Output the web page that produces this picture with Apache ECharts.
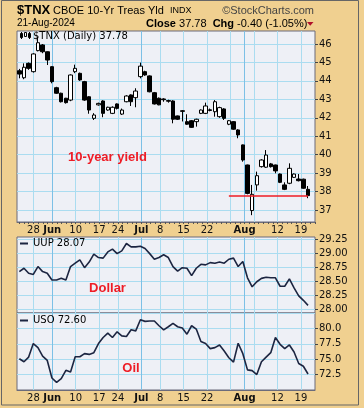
<!DOCTYPE html>
<html><head><meta charset="utf-8">
<script src="https://cdn.jsdelivr.net/npm/echarts@6/dist/echarts.min.js"></script>
<style>html,body{margin:0;padding:0;background:#F0D090}#c{width:364px;height:408px}</style>
</head><body><div id="c"></div><script>
// ---- data ----
const days = ['05-22','05-23','05-24','05-28','05-29','05-30','05-31',
 '06-03','06-04','06-05','06-06','06-07','06-10','06-11','06-12','06-13','06-14',
 '06-17','06-18','06-20','06-21','06-24','06-25','06-26','06-27','06-28',
 '07-01','07-02','07-03','07-05','07-08','07-09','07-10','07-11','07-12',
 '07-15','07-16','07-17','07-18','07-19','07-22','07-23','07-24','07-25','07-26',
 '07-29','07-30','07-31','08-01','08-02','08-05','08-06','08-07','08-08','08-09',
 '08-12','08-13','08-14','08-15','08-16','08-19','08-20','08-21'];
const tnxOpen = [44.55,44.17,44.95,44.50,45.64,45.95,45.58,44.77,43.63,43.33,
 43.06,42.96,44.50,44.41,43.96,43.14,41.97,42.70,42.91,42.42,
 42.24,42.75,42.20,42.87,43.24,43.09,44.23,44.50,44.27,43.36,
 43.06,43.02,42.93,42.91,42.10,42.38,41.79,41.84,41.79,42.24,
 42.24,42.43,42.33,42.06,42.48,41.65,41.79,41.34,40.53,39.44,
 36.97,38.36,39.35,39.32,39.50,39.44,38.95,38.36,38.45,38.77,
 38.68,38.67,38.12];
const tnxClose = [44.37,44.74,44.68,45.46,46.07,45.58,45.13,43.96,43.33,42.87,
 42.82,44.32,44.68,44.05,42.96,42.42,42.15,42.78,42.24,42.57,
 42.57,42.51,42.42,43.18,42.87,43.45,44.80,44.32,43.41,42.75,
 42.70,42.98,42.90,41.92,41.92,42.35,41.65,41.48,41.92,42.42,
 42.64,42.40,42.87,42.55,41.97,41.84,41.38,41.07,39.71,37.90,
 37.85,38.86,39.71,39.98,39.35,39.12,38.50,38.12,39.26,38.95,
 38.59,38.18,37.78];
const tnxHigh = [44.65,44.95,45.00,45.50,46.40,46.00,45.60,44.80,43.68,43.36,
 43.08,44.35,44.88,44.45,44.00,43.17,42.25,42.82,42.95,42.60,
 42.62,42.78,42.50,43.22,43.27,43.60,44.99,44.55,44.30,43.40,
 43.10,43.06,42.98,42.95,42.12,42.42,42.19,41.88,41.95,42.45,
 42.82,42.50,42.96,42.60,42.52,41.88,41.82,41.38,40.55,39.46,
 38.36,39.08,39.75,40.25,39.55,39.46,38.98,38.50,39.53,38.98,
 38.95,38.70,38.30];
const tnxLow = [44.14,44.09,44.60,44.45,45.60,45.50,44.86,43.87,43.30,42.83,
 42.77,42.90,44.42,44.00,42.92,42.22,41.88,42.66,42.03,42.38,
 42.20,42.45,42.15,42.84,42.64,42.57,44.14,44.28,43.38,42.72,
 42.68,42.87,42.82,41.70,41.88,41.80,41.62,41.45,41.52,42.20,
 42.20,42.35,42.06,42.00,41.88,41.60,41.35,40.89,39.62,37.85,
 36.72,38.05,39.30,39.28,39.30,38.99,38.46,38.08,38.40,38.74,
 38.55,38.15,37.64];
const uup = [28.67,28.73,28.64,28.62,28.76,28.67,28.64,28.52,28.52,28.55,
 28.52,28.76,28.82,28.88,28.74,28.84,28.98,28.92,28.91,29.02,
 29.07,28.99,29.04,29.17,29.11,29.11,29.12,29.08,28.99,28.89,
 28.92,28.97,28.92,28.76,28.68,28.74,28.73,28.60,28.73,28.80,
 28.79,28.83,28.82,28.84,28.82,28.89,28.91,28.76,28.85,28.56,
 28.40,28.49,28.55,28.57,28.56,28.56,28.41,28.41,28.54,28.38,
 28.24,28.16,28.07];
const uso = [75.07,74.58,75.34,77.54,76.88,75.50,74.80,71.95,71.23,71.84,
 73.20,72.93,75.40,75.40,75.90,75.78,76.06,77.54,78.52,79.23,
 78.52,79.44,78.79,78.68,79.77,79.60,81.41,81.14,81.20,81.20,
 80.43,79.77,80.27,80.82,80.27,80.05,79.06,80.43,79.89,77.86,
 77.54,76.72,76.88,77.31,76.32,75.24,74.52,77.59,75.90,73.27,
 73.15,72.50,74.58,75.34,76.06,78.52,77.42,76.72,77.31,76.16,
 74.30,73.86,72.60];
const tickDays = ['05-28','06-03','06-10','06-17','06-24','07-01','07-08','07-15','07-22','08-01','08-12','08-19'];
const tickText = ['28','Jun','10','17','24','Jul','8','15','22','Aug','12','19'];
const monthDays = ['06-03','07-01','08-01'];
const gridDays = ['05-28','06-03','06-10','06-17','06-24','07-01','07-08','07-15','07-22','07-29','08-01','08-05','08-12','08-19'];
const tnxTicks = {min:37, max:46, step:1};
const uupTicks = {min:28, max:29.25, step:0.25};
const usoTicks = {min:70, max:82.5, step:2.5};

// ---- style ----
const TAN='#F0D090', PLOT='#EEF0F6', BORDER='#6b6b7b', LIGHT='#aadcf0', DARK='#7cc0e6', NAVY='#1c2541', RED='#ee1c25';
const LEFT=17, W=298;
const halfCats = [];
for (let k=0;k<=days.length*2+1;k++) halfCats.push(k%2===1 ? days[(k-1)/2] : '_'+k);
const dayCats = days.concat(['']);
const gridColors = gridDays.map(d => monthDays.indexOf(d)>=0 ? DARK : LIGHT);
const fmtX = v => { const i = tickDays.indexOf(v); if (i<0) return ''; const t = tickText[i]; return monthDays.indexOf(v)>=0 ? '{m|'+t+'}' : t; };
const lblX = {fontSize:10, color:'#111', fontFamily:'DejaVu Sans', rich:{m:{fontWeight:'bold', fontSize:10, color:'#111', fontFamily:'DejaVu Sans'}}};
const split = {show:true, interval:(i,v)=>gridDays.indexOf(v)>=0, lineStyle:{color:gridColors, width:1}};
function yAx(g, t, dec){
  return {gridIndex:g, type:'value', position:'right', min:t.min, max:t.max, interval:t.step,
    axisLine:{show:false}, axisTick:{show:true, length:3, lineStyle:{color:'#444'}},
    axisLabel:{margin:4, fontSize:10, color:'#111', fontFamily:'DejaVu Sans', showMinLabel:g!==4, showMaxLabel:g!==4,
      formatter:v=>dec?v.toFixed(dec):String(v)},
    splitLine:{show:true, lineStyle:{color:LIGHT, width:1}}};
}
const last = a => a[a.length-1];
const closeLevel = last(tnxClose);
const prevClose = tnxClose[tnxClose.length-2];
const chg = closeLevel - prevClose;

const chart = echarts.init(document.getElementById('c'), null, {renderer:'canvas'});
chart.setOption({
  animation:false,
  backgroundColor:TAN,
  textStyle:{fontFamily:'DejaVu Sans'},
  grid:[
    {left:LEFT, top:31, width:W, height:191, show:true, backgroundColor:PLOT, borderColor:BORDER, borderWidth:1},
    {left:LEFT, top:44, width:W, height:166},
    {left:LEFT, top:237, width:W, height:76, show:true, backgroundColor:PLOT, borderColor:BORDER, borderWidth:1},
    {left:LEFT, top:239, width:W, height:70.3},
    {left:LEFT, top:313, width:W, height:77, show:true, backgroundColor:PLOT, borderColor:BORDER, borderWidth:1}
  ],
  xAxis:[
    {gridIndex:0, type:'category', data:halfCats, boundaryGap:false,
     axisLine:{show:true, lineStyle:{color:BORDER}},
     axisTick:{show:true, interval:(i)=>i%2===1, length:2, lineStyle:{color:'#555'}},
     axisLabel:Object.assign({show:true, interval:(i,v)=>tickDays.indexOf(v)>=0, formatter:fmtX, margin:3}, lblX),
     splitLine:split},
    {gridIndex:1, type:'category', data:dayCats, boundaryGap:true, show:false},
    {gridIndex:2, type:'category', data:halfCats, boundaryGap:false,
     axisLine:{show:false}, axisTick:{show:false}, axisLabel:{show:false}, splitLine:split},
    {gridIndex:3, type:'category', data:dayCats, boundaryGap:true, show:false},
    {gridIndex:4, type:'category', data:halfCats, boundaryGap:false,
     axisLine:{show:true, lineStyle:{color:BORDER}}, axisTick:{show:false},
     axisLabel:Object.assign({show:true, interval:(i,v)=>tickDays.indexOf(v)>=0, formatter:fmtX, margin:3}, lblX),
     splitLine:split},
    {gridIndex:4, type:'category', data:dayCats, boundaryGap:true, show:false, position:'top'}
  ],
  yAxis:[
    {gridIndex:0, type:'value', min:0, max:1, show:false},
    yAx(1, tnxTicks, 0),
    {gridIndex:2, type:'value', min:0, max:1, show:false},
    yAx(3, uupTicks, 2),
    yAx(4, usoTicks, 1)
  ],
  series:[
    {type:'candlestick', xAxisIndex:1, yAxisIndex:1, barWidth:4, clip:false,
     data: days.map((d,i)=>[tnxOpen[i], tnxClose[i], tnxLow[i], tnxHigh[i]]),
     itemStyle:{color:'#ffffff', color0:'#000000', borderColor:'#000000', borderColor0:'#000000', borderWidth:1},
     markLine:{silent:true, symbol:'none', label:{show:false}, lineStyle:{color:RED, width:1.5, type:'solid'},
       data:[[{coord:[days[45], closeLevel]},{coord:[days[days.length-1], closeLevel]}]]}},
    {type:'line', xAxisIndex:3, yAxisIndex:3, data:uup, symbol:'none', showSymbol:false, clip:false,
     lineStyle:{color:NAVY, width:1.6}},
    {type:'line', xAxisIndex:5, yAxisIndex:4, data:uso, symbol:'none', showSymbol:false, clip:false,
     lineStyle:{color:NAVY, width:1.6}}
  ],
  graphic:[
    {type:'rect', z:100, silent:true, shape:{x:1.5, y:0.5, width:357, height:404.5}, style:{fill:'none', stroke:'#666', lineWidth:1}},
    {type:'text', z:100, x:17, y:10, style:{text:'$TNX', fontSize:13, fontWeight:'bold', fontFamily:'Liberation Sans', fill:'#000', verticalAlign:'middle', textVerticalAlign:'middle'}},
    {type:'text', z:100, x:53, y:10.5, style:{text:'CBOE 10-Yr Treas Yld', fontSize:11, fontFamily:'Liberation Sans', fill:'#000', verticalAlign:'middle', textVerticalAlign:'middle'}},
    {type:'text', z:100, x:170, y:11, style:{text:'INDX', fontSize:9, fontFamily:'Liberation Sans', fill:'#000', verticalAlign:'middle', textVerticalAlign:'middle'}},
    {type:'text', z:100, x:314, y:10.5, style:{text:'\u00A9StockCharts.com', fontSize:11, fontFamily:'Liberation Sans', fill:'#444', align:'right', textAlign:'right', verticalAlign:'middle', textVerticalAlign:'middle'}},
    {type:'text', z:100, x:17, y:23.5, style:{text:'21-Aug-2024', fontSize:10, fontFamily:'Liberation Sans', fill:'#000', verticalAlign:'middle', textVerticalAlign:'middle'}},
    {type:'text', z:100, x:146, y:23.5, style:{text:'{b|Close} '+closeLevel.toFixed(2)+'  {b|Chg} '+chg.toFixed(2)+' ('+(chg/prevClose*100).toFixed(2)+'%)',
      fontSize:11, fontFamily:'Liberation Sans', fill:'#000', verticalAlign:'middle', textVerticalAlign:'middle',
      rich:{b:{fontSize:11, fontWeight:'bold', fontFamily:'Liberation Sans', fill:'#000'}}}},
    {type:'polygon', z:100, shape:{points:[[307,22],[313.5,22],[310.2,25.8]]}, style:{fill:'#b0102a'}},
    // legend icons
    {type:'rect', z:100, shape:{x:20.5, y:33.5, width:2, height:4}, style:{fill:'#000', stroke:'#000'}},
    {type:'line', z:100, shape:{x1:21.5, y1:32, x2:21.5, y2:39}, style:{stroke:'#000'}},
    {type:'rect', z:100, shape:{x:24.5, y:32.5, width:2, height:4}, style:{fill:'#fff', stroke:'#000'}},
    {type:'rect', z:100, shape:{x:28.5, y:33.5, width:2, height:4}, style:{fill:'#000', stroke:'#000'}},
    {type:'line', z:100, shape:{x1:29.5, y1:32, x2:29.5, y2:39}, style:{stroke:'#000'}},
    {type:'text', z:100, x:33, y:36.5, style:{text:'$TNX (Daily) '+closeLevel.toFixed(2), fontSize:10, fontFamily:'DejaVu Sans', fill:'#000', verticalAlign:'middle', textVerticalAlign:'middle'}},
    {type:'line', z:100, shape:{x1:20, y1:243.5, x2:28, y2:243.5}, style:{stroke:NAVY, lineWidth:2}},
    {type:'text', z:100, x:33, y:243.5, style:{text:'UUP '+last(uup).toFixed(2), fontSize:10, fontFamily:'DejaVu Sans', fill:'#000', verticalAlign:'middle', textVerticalAlign:'middle'}},
    {type:'line', z:100, shape:{x1:20, y1:320.5, x2:28, y2:320.5}, style:{stroke:NAVY, lineWidth:2}},
    {type:'text', z:100, x:33, y:320.5, style:{text:'USO '+last(uso).toFixed(2), fontSize:10, fontFamily:'DejaVu Sans', fill:'#000', verticalAlign:'middle', textVerticalAlign:'middle'}},
    // annotations
    {type:'text', z:100, x:107.5, y:157, style:{text:'10-year yield', fontSize:13, fontWeight:'bold', fontFamily:'Liberation Sans', fill:RED, align:'center', textAlign:'center', verticalAlign:'middle', textVerticalAlign:'middle'}},
    {type:'text', z:100, x:107.5, y:288.5, style:{text:'Dollar', fontSize:13, fontWeight:'bold', fontFamily:'Liberation Sans', fill:RED, align:'center', textAlign:'center', verticalAlign:'middle', textVerticalAlign:'middle'}},
    {type:'text', z:100, x:131, y:368, style:{text:'Oil', fontSize:13, fontWeight:'bold', fontFamily:'Liberation Sans', fill:RED, align:'center', textAlign:'center', verticalAlign:'middle', textVerticalAlign:'middle'}}
  ]
});
</script></body></html>
